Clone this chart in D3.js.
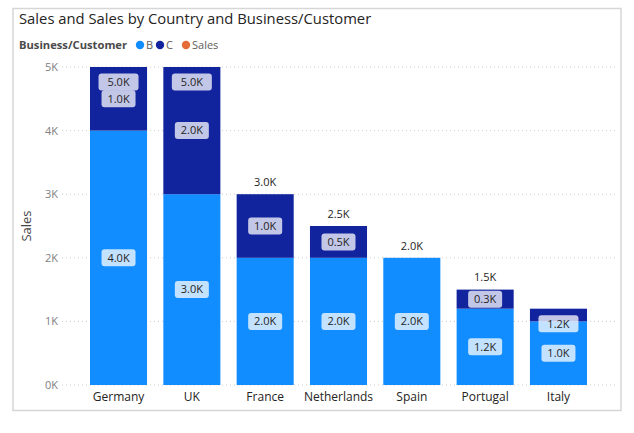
<!DOCTYPE html>
<html><head><meta charset="utf-8">
<script src="https://cdn.jsdelivr.net/npm/d3@7"></script>
<style>body{margin:0;background:#fff}svg{display:block}text{font-family:"Segoe UI","Open Sans",sans-serif}</style>
</head><body><svg id="c" width="634" height="433"></svg>
<script>
const countries = ["Germany","UK","France","Netherlands","Spain","Portugal","Italy"];
const valuesB = [4000,3000,2000,2000,2000,1200,1000];
const valuesC = [1000,2000,1000,500,0,300,200];
const yTicks = [0,1000,2000,3000,4000,5000];
const yTickLabels = ["0K","1K","2K","3K","4K","5K"];
const totalInside = ["Germany","UK","Italy"];
const seriesNames = ["B","C","Sales"];
const seriesColors = ["#118DFF","#12239E","#E66C37"];

const svg = d3.select("#c");
// card
svg.append("rect").attr("x",13).attr("y",8.5).attr("width",608).attr("height",402)
  .attr("fill","#fff").attr("stroke","#D6D6D6").attr("stroke-width",1.5);

svg.append("text").attr("x",19).attr("y",24).attr("font-size",14.8).attr("fill","#252423")
  .text("Sales and Sales by Country and Business/Customer");

// legend
const lg = svg.append("g");
lg.append("text").attr("x",19).attr("y",49).attr("font-size",11.2).attr("font-weight","bold").attr("fill","#4a4a4a").text("Business/Customer");
const legX = [140, 160, 186];
seriesNames.forEach((s,i)=>{
  lg.append("circle").attr("cx",legX[i]).attr("cy",45).attr("r",4.2).attr("fill",seriesColors[i]);
  lg.append("text").attr("x",legX[i]+6).attr("y",49).attr("font-size",11).attr("fill","#605E5C").text(s);
});

const x = d3.scaleBand().domain(countries).range([62,615]).paddingInner(0.222).paddingOuter(0.382);
const y = d3.scaleLinear().domain([0,5000]).range([385,67]);

// gridlines
svg.append("g").selectAll("line").data(yTicks).join("line")
  .attr("x1",62).attr("x2",615).attr("y1",d=>y(d)).attr("y2",d=>y(d))
  .attr("stroke","#CDCDCD").attr("stroke-dasharray","1,3");

// y axis
const yAxis = svg.append("g").attr("transform","translate(58,0)")
  .call(d3.axisLeft(y).tickValues(yTicks).tickFormat((d,i)=>yTickLabels[i]).tickSize(0).tickPadding(0));
yAxis.select(".domain").remove();
yAxis.selectAll("text").attr("font-size",11).attr("fill","#808080").attr("font-family",null);

svg.append("text").attr("transform","translate(31,226) rotate(-90)").attr("text-anchor","middle")
  .attr("font-size",13).attr("fill","#444").text("Sales");

// x axis
const xAxis = svg.append("g").attr("transform","translate(0,390)")
  .call(d3.axisBottom(x).tickSize(0).tickPadding(0));
xAxis.select(".domain").remove();
xAxis.selectAll("text").attr("font-size",12).attr("fill","#252423").attr("dy","0.9em").attr("font-family",null);

const data = countries.map((c,i)=>({c, b:valuesB[i], cc:valuesC[i], t:valuesB[i]+valuesC[i]}));
const fmt = v => d3.format(".1f")(v/1000)+"K";

// bars
svg.append("g").selectAll("rect").data(data).join("rect")
  .attr("x",d=>x(d.c)).attr("width",x.bandwidth())
  .attr("y",d=>y(d.b)).attr("height",d=>y(0)-y(d.b)).attr("fill",seriesColors[0]);
svg.append("g").selectAll("rect").data(data).join("rect")
  .attr("x",d=>x(d.c)).attr("width",x.bandwidth())
  .attr("y",d=>y(d.t)).attr("height",d=>y(d.b)-y(d.t)).attr("fill",seriesColors[1]);

function boxLabel(cx, cy, txt, w){
  const g = svg.append("g");
  g.append("rect").attr("x",cx-w/2).attr("y",cy-8.5).attr("width",w).attr("height",17).attr("rx",3)
    .attr("fill","#fff").attr("fill-opacity",0.75);
  g.append("text").attr("x",cx).attr("y",cy).attr("dy","0.35em").attr("text-anchor","middle")
    .attr("font-size",11).attr("fill","#252423").text(txt);
}
const lbl = [];
data.forEach(d=>{
  const cx = x(d.c)+x.bandwidth()/2;
  if (y(0)-y(d.b) >= 16) lbl.push([cx,(y(0)+y(d.b))/2,fmt(d.b),34]);
  if (y(d.b)-y(d.t) >= 16) lbl.push([cx,(y(d.b)+y(d.t))/2,fmt(d.cc),34]);
});
lbl.forEach(l=>boxLabel(...l));
data.forEach(d=>{
  const cx = x(d.c)+x.bandwidth()/2;
  if (totalInside.includes(d.c)) boxLabel(cx, y(d.t)+15, fmt(d.t), 40);
  else svg.append("text").attr("x",cx).attr("y",y(d.t)-12).attr("dy","0.35em").attr("text-anchor","middle")
    .attr("font-size",11).attr("fill","#252423").text(fmt(d.t));
});
</script></body></html>
